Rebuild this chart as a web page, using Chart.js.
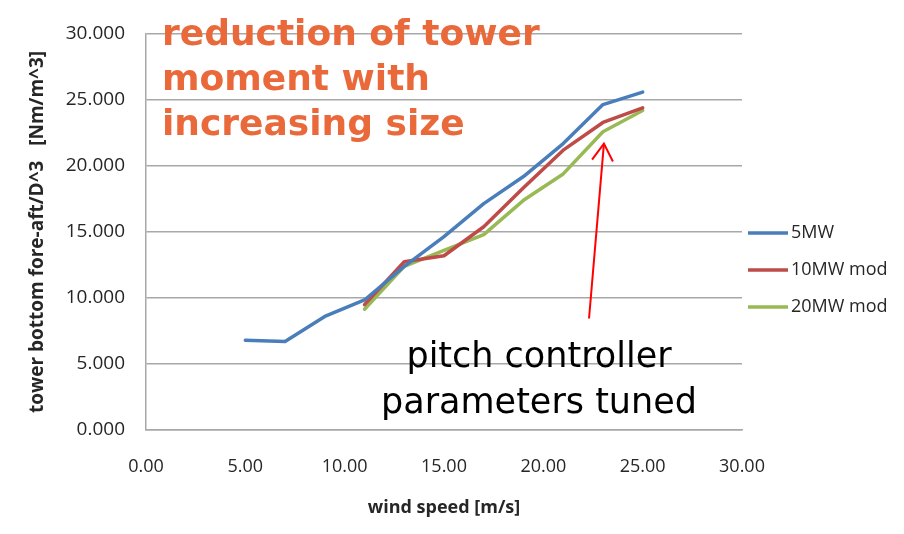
<!DOCTYPE html>
<html><head><meta charset="utf-8">
<script src="https://cdn.jsdelivr.net/npm/chart.js@4"></script>
<style>html,body{margin:0;padding:0;background:#fff}#wrap{width:904px;height:534px}</style>
</head><body><div id="wrap"><canvas id="c" width="904" height="534"></canvas></div>
<script>
const windSpeed5MW = [5, 7, 9, 11, 13, 15, 17, 19, 21, 23, 25];
const moment5MW = [6.8, 6.7, 8.6, 9.85, 12.4, 14.65, 17.15, 19.2, 21.7, 24.65, 25.6];
const windSpeedMod = [11, 13, 15, 17, 19, 21, 23, 25];
const moment10MW = [9.5, 12.75, 13.2, 15.4, 18.35, 21.2, 23.3, 24.4];
const moment20MW = [9.15, 12.4, 13.6, 14.8, 17.4, 19.4, 22.6, 24.2];
const seriesNames = ['5MW', '10MW mod', '20MW mod'];
const seriesColors = ['#4A7EBB', '#BE4B48', '#98B954'];
const xTitle = 'wind speed [m/s]';
const yTitle = 'tower bottom fore-aft/D^3   [Nm/m^3]';
const annotationTitle = ['reduction of tower', 'moment with', 'increasing size'];
const annotationNote = ['pitch controller', 'parameters tuned'];
const arrowTail = {x: 22.3, y: 8.45};
const arrowTip = {x: 23.05, y: 21.7};

function pairs(xs, ys) { return xs.map((v, i) => ({x: v, y: ys[i]})); }

const overlay = {
  id: 'overlay',
  afterDatasetsDraw(chart) {
    const {ctx, chartArea: a, scales: {x, y}} = chart;
    ctx.save();
    // legend
    chart.data.datasets.forEach((ds, i) => {
      const yy = a.top + 199 + i * 37;
      ctx.strokeStyle = ds.borderColor;
      ctx.lineWidth = 3.5;
      ctx.lineCap = 'butt';
      ctx.beginPath();
      ctx.moveTo(a.right + 6, yy);
      ctx.lineTo(a.right + 46, yy);
      ctx.stroke();
      ctx.fillStyle = '#262626';
      ctx.font = '18px "Open Sans"';
      ctx.textBaseline = 'middle';
      ctx.textAlign = 'left';
      ctx.fillText(ds.label, a.right + 49, yy);
    });
    // orange title
    ctx.fillStyle = '#EA693B';
    ctx.font = 'bold 36px "DejaVu Sans"';
    ctx.textBaseline = 'alphabetic';
    ctx.textAlign = 'left';
    annotationTitle.forEach((t, i) => ctx.fillText(t, a.left + 16, a.top + 11 + i * 45));
    // note
    ctx.fillStyle = '#000';
    ctx.font = '35px "DejaVu Sans"';
    ctx.textAlign = 'center';
    annotationNote.forEach((t, i) => ctx.fillText(t, a.left + 393, a.top + 333 + i * 46));
    // arrow
    const tx = x.getPixelForValue(arrowTail.x), ty = y.getPixelForValue(arrowTail.y);
    const hx = x.getPixelForValue(arrowTip.x), hy = y.getPixelForValue(arrowTip.y);
    ctx.strokeStyle = '#FF0000';
    ctx.lineWidth = 2;
    ctx.beginPath();
    ctx.moveTo(tx, ty); ctx.lineTo(hx, hy); ctx.stroke();
    const ang = Math.atan2(ty - hy, tx - hx);
    const L = 20, w = 0.55;
    ctx.beginPath();
    ctx.moveTo(hx + L * Math.cos(ang - w), hy + L * Math.sin(ang - w));
    ctx.lineTo(hx, hy);
    ctx.lineTo(hx + L * Math.cos(ang + w), hy + L * Math.sin(ang + w));
    ctx.stroke();
    ctx.restore();
  }
};

Chart.defaults.font.family = '"Open Sans"';
Chart.defaults.color = '#262626';

new Chart(document.getElementById('c'), {
  type: 'line',
  data: {
    datasets: [
      {label: seriesNames[0], data: pairs(windSpeed5MW, moment5MW), borderColor: seriesColors[0]},
      {label: seriesNames[1], data: pairs(windSpeedMod, moment10MW), borderColor: seriesColors[1]},
      {label: seriesNames[2], data: pairs(windSpeedMod, moment20MW), borderColor: seriesColors[2]}
    ]
  },
  options: {
    responsive: false,
    animation: false,
    devicePixelRatio: 1,
    elements: {
      line: {borderWidth: 3.5, tension: 0, borderCapStyle: 'round', borderJoinStyle: 'round'},
      point: {radius: 0, hoverRadius: 0}
    },
    layout: {padding: {top: 34, right: 162, left: 0, bottom: 0}},
    plugins: {legend: {display: false}, tooltip: {enabled: false}},
    scales: {
      x: {
        type: 'linear', min: 0, max: 30,
        ticks: {stepSize: 5, callback: v => v.toFixed(2), font: {size: 18}, padding: 26, maxRotation: 0},
        grid: {display: false, drawTicks: false},
        border: {display: true, color: '#A8A8A8', width: 1.5},
        title: {display: true, text: xTitle, font: {size: 18, weight: 'bold'}, padding: 15, color: '#262626'},
        afterFit: s => { s.height = 104; }
      },
      y: {
        min: 0, max: 30,
        ticks: {stepSize: 5, callback: v => v.toFixed(3), font: {size: 19}, padding: 21},
        grid: {color: '#A8A8A8', lineWidth: 1.5, drawTicks: false},
        border: {display: true, color: '#A8A8A8', width: 1.5},
        title: {display: true, text: yTitle, font: {size: 19, weight: 'bold'}, padding: 26, color: '#262626'},
        afterFit: s => { s.width = 146; }
      }
    }
  },
  plugins: [overlay]
});
</script>
</body></html>
